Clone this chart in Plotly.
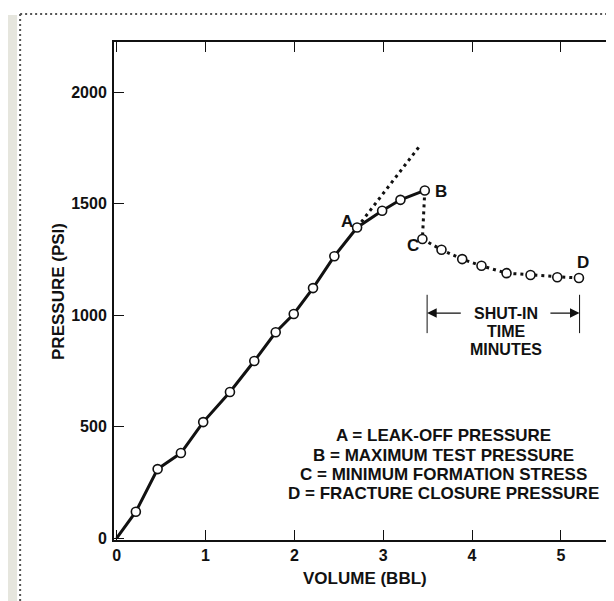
import plotly.graph_objects as go

# ---- data ----
vol_pump = [0, 0.216, 0.461, 0.723, 0.974, 1.275, 1.549, 1.790, 1.993, 2.21, 2.45, 2.706, 2.988, 3.194, 3.468]
p_pump = [0, 119, 310, 382, 521, 656, 795, 924, 1006, 1122, 1265, 1394, 1469, 1518, 1560]

vol_shut = [3.441, 3.656, 3.889, 4.106, 4.388, 4.658, 4.959, 5.203]
p_shut = [1342, 1294, 1252, 1222, 1189, 1181, 1171, 1167]

vol_trend = [2.706, 3.40]
p_trend = [1394, 1754]

vol_drop = [3.468, 3.441]
p_drop = [1560, 1342]

key_labels = ["A", "B", "C", "D"]
key_x = [2.593, 3.652, 3.337, 5.248]
key_y = [1422, 1557, 1315, 1238]

notes = ["A = LEAK-OFF PRESSURE", "B = MAXIMUM TEST PRESSURE",
         "C = MINIMUM FORMATION STRESS", "D = FRACTURE CLOSURE PRESSURE"]
notes_y = [461, 371, 286, 200]

shut_x = [3.494, 5.21]
shut_text = ["SHUT-IN", "TIME", "MINUTES"]
shut_text_y = [1010, 928, 848]

x_ticks = [0, 1, 2, 3, 4, 5]
y_ticks = [0, 500, 1000, 1500, 2000]

FONT = "Liberation Sans"
INK = "#111111"

fig = go.Figure()

# dotted trend extension
fig.add_trace(go.Scatter(x=vol_trend, y=p_trend, mode="lines",
                         line=dict(color=INK, width=3, dash="3px,4px"), hoverinfo="skip"))
# dotted drop B -> C
fig.add_trace(go.Scatter(x=vol_drop, y=p_drop, mode="lines",
                         line=dict(color=INK, width=3, dash="3px,4px"), hoverinfo="skip"))
# shut-in decline (dotted)
fig.add_trace(go.Scatter(x=vol_shut, y=p_shut, mode="lines+markers",
                         line=dict(color=INK, width=3, dash="3px,4px"),
                         marker=dict(size=9, color="white", line=dict(color=INK, width=1.6))))
# pumping curve (solid)
fig.add_trace(go.Scatter(x=vol_pump, y=p_pump, mode="lines",
                         line=dict(color=INK, width=3)))
fig.add_trace(go.Scatter(x=vol_pump[1:], y=p_pump[1:], mode="markers",
                         marker=dict(size=9, color="white", line=dict(color=INK, width=1.6))))

annotations = []
for t, xx, yy in zip(key_labels, key_x, key_y):
    annotations.append(dict(x=xx, y=yy, xref="x", yref="y", text=t, showarrow=False,
                            font=dict(family=FONT, size=17, color=INK, weight="bold")))
for t, yy in zip(notes, notes_y):
    annotations.append(dict(x=3.68, y=yy, xref="x", yref="y", text=t, showarrow=False,
                            font=dict(family=FONT, size=17, color=INK, weight="bold")))
for t, yy in zip(shut_text, shut_text_y):
    annotations.append(dict(x=4.386, y=yy, xref="x", yref="y", text=t, showarrow=False,
                            font=dict(family=FONT, size=16, color=INK, weight="bold")))
# shut-in arrows
annotations.append(dict(x=shut_x[0], y=1010, ax=3.89, ay=1010, xref="x", yref="y",
                        axref="x", ayref="y", text="", showarrow=True, arrowhead=2,
                        arrowsize=1.6, arrowwidth=1.2, arrowcolor=INK))
annotations.append(dict(x=shut_x[1], y=1010, ax=4.865, ay=1010, xref="x", yref="y",
                        axref="x", ayref="y", text="", showarrow=True, arrowhead=2,
                        arrowsize=1.6, arrowwidth=1.2, arrowcolor=INK))
# axis titles
annotations.append(dict(x=0.5, y=-0.0783, xref="paper", yref="paper", text="VOLUME (BBL)",
                        showarrow=False, yanchor="middle",
                        font=dict(family=FONT, size=17, color=INK, weight="bold")))
annotations.append(dict(x=-0.1116, y=0.5, xref="paper", yref="paper", text="PRESSURE (PSI)",
                        showarrow=False, textangle=-90, xanchor="center", yanchor="middle",
                        font=dict(family=FONT, size=17, color=INK, weight="bold")))

shapes = []
for sx in shut_x:
    shapes.append(dict(type="line", xref="x", yref="y", x0=sx, x1=sx, y0=920, y1=1092,
                       line=dict(color=INK, width=1)))
# page decoration: beige strip and dotted border
shapes.append(dict(type="rect", xref="paper", yref="paper", x0=-0.212, x1=-0.193,
                   y0=-0.139, y1=1.0542, fillcolor="#e6e6de", line=dict(width=0), layer="below"))
shapes.append(dict(type="line", xref="paper", yref="paper", x0=-0.187, x1=1.012,
                   y0=1.0562, y1=1.0562, line=dict(color="#555555", width=2, dash="2px,3px")))
shapes.append(dict(type="line", xref="paper", yref="paper", x0=-0.187, x1=-0.187,
                   y0=1.0562, y1=-0.139, line=dict(color="#555555", width=2, dash="2px,3px")))

axis_common = dict(showgrid=False, zeroline=False, showline=True, linecolor=INK, linewidth=2,
                   mirror="ticks", ticks="inside", ticklen=10, tickwidth=1, tickcolor=INK,
                   tickfont=dict(family=FONT, size=16, color=INK, weight="bold"),
                   automargin=False)

fig.update_layout(
    width=614, height=601,
    margin=dict(l=106, r=6, t=34, b=69),
    paper_bgcolor="white", plot_bgcolor="white",
    showlegend=False,
    xaxis=dict(range=[-0.03, 5.62], tickvals=x_ticks, **axis_common),
    yaxis=dict(range=[-8, 2226], tickvals=y_ticks, ticklabelstandoff=2, **axis_common),
    annotations=annotations,
    shapes=shapes,
)

fig.write_html("out.html")
